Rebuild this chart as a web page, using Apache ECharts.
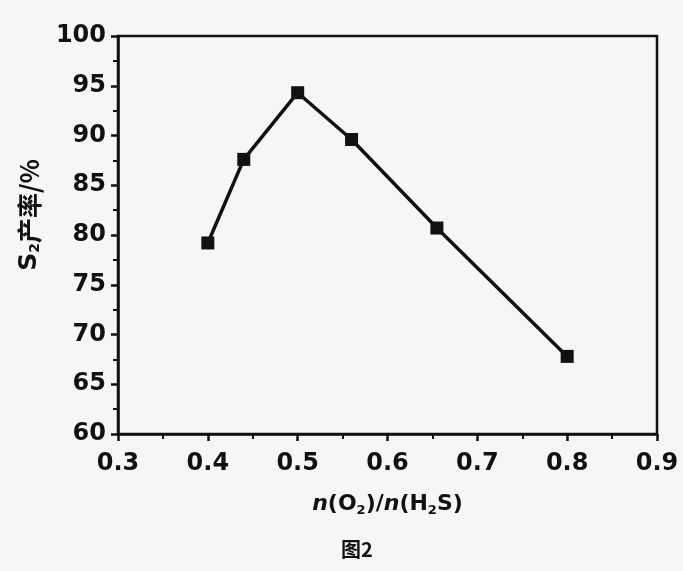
<!DOCTYPE html>
<html>
<head>
<meta charset="utf-8">
<script src="https://cdn.jsdelivr.net/npm/echarts@6/dist/echarts.min.js"></script>
<style>
  html, body { margin: 0; padding: 0; background: #f6f6f4; }
  #chart { width: 683px; height: 571px; }
</style>
</head>
<body>
<div id="chart"></div>
<script>
// n(O2)/n(H2S) ratio and S2 yield (%)
const ratios = [0.4, 0.44, 0.5, 0.56, 0.655, 0.8]
const yields = [79.2, 87.6, 94.3, 89.6, 80.7, 67.8]

const ink = '#111'
const labelFont = {
  color: ink,
  fontFamily: 'DejaVu Sans',
  fontWeight: 'bold',
  fontSize: 24,
}

const chart = echarts.init(document.getElementById('chart'))

chart.setOption({
  backgroundColor: '#f6f6f4',
  animation: false,
  title: {
    text: '图2',
    left: 336,
    top: 534,
    textStyle: {
      color: ink,
      fontFamily: 'Noto Sans CJK SC',
      fontWeight: 'bold',
      fontSize: 20,
    },
  },
  grid: {
    left: 118,
    right: 26,
    top: 36,
    bottom: 137,
    outerBoundsMode: 'none',
    containLabel: false,
    show: true,
    borderColor: ink,
    borderWidth: 2.5,
    backgroundColor: 'transparent',
  },
  xAxis: {
    type: 'value',
    min: 0.3,
    max: 0.9,
    interval: 0.1,
    name: '{i|n}(O{s|2})/{i|n}(H{s|2}S)',
    nameLocation: 'middle',
    nameGap: 58,
    nameTextStyle: {
      color: ink,
      fontFamily: 'DejaVu Sans',
      fontWeight: 'bold',
      fontSize: 22,
      rich: {
        i: {fontStyle: 'italic', fontWeight: 'bold', fontSize: 22, fontFamily: 'DejaVu Sans', color: ink},
        s: {fontSize: 13, fontWeight: 'bold', fontFamily: 'DejaVu Sans', color: ink, verticalAlign: 'bottom', padding: [12, 0, 0, 0]},
      },
    },
    axisLine: {show: true, lineStyle: {color: ink, width: 2.5}},
    axisTick: {show: true, length: 7, lineStyle: {color: ink, width: 2.5}},
    minorTick: {show: true, splitNumber: 2, length: 5, lineStyle: {color: ink, width: 2}},
    splitLine: {show: false},
    axisLabel: {
      ...labelFont,
      margin: 18,
      formatter: v => v.toFixed(1),
    },
  },
  yAxis: {
    type: 'value',
    min: 60,
    max: 100,
    interval: 5,
    name: '{b|S}{s|2}产率/%',
    nameLocation: 'middle',
    nameRotate: 90,
    nameGap: 76,
    nameTextStyle: {
      color: ink,
      fontFamily: 'Noto Sans CJK SC',
      fontWeight: 'bold',
      fontSize: 25,
      padding: [0, 0, 0, 40],
      rich: {
        b: {fontSize: 25, fontWeight: 'bold', fontFamily: 'DejaVu Sans', color: ink},
        s: {fontSize: 14, fontWeight: 'bold', fontFamily: 'DejaVu Sans', color: ink, verticalAlign: 'bottom', padding: [12, 0, 0, 0]},
      },
    },
    axisLine: {show: true, lineStyle: {color: ink, width: 2.5}},
    axisTick: {show: true, length: 7, lineStyle: {color: ink, width: 2.5}},
    minorTick: {show: true, splitNumber: 2, length: 5, lineStyle: {color: ink, width: 2}},
    splitLine: {show: false},
    axisLabel: {
      ...labelFont,
      margin: 12,
    },
  },
  series: [
    {
      type: 'line',
      data: ratios.map((x, i) => [x, yields[i]]),
      symbol: 'rect',
      symbolSize: 13,
      lineStyle: {color: ink, width: 3.5},
      itemStyle: {color: ink},
    },
  ],
})
</script>
</body>
</html>
